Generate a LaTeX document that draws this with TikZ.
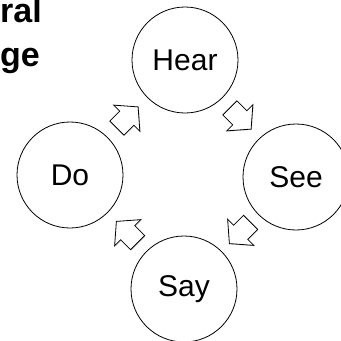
\documentclass[tikz,border=0pt]{standalone}
\usepackage{fontspec}
\setmainfont{Liberation Sans}
\usetikzlibrary{shadows,calc}
\begin{document}
\begin{tikzpicture}[x=1pt,y=-1pt,
    stage/.style={circle,draw,line width=0.8pt,fill=white,minimum size=106pt,inner sep=0pt,font=\fontsize{30}{36}\selectfont},
    turn/.pic={\draw[line width=0.8pt,fill=white,line join=miter,drop shadow={shadow xshift=0.8pt,shadow yshift=-0.8pt,opacity=0.35}]
      (-15,-10) -- (-1,-10) -- (-1,-18.5) -- (15,0) -- (-1,18.5) -- (-1,10) -- (-15,10) -- cycle;},
    title/.style={anchor=base east,inner sep=0pt,font=\fontsize{34}{40}\selectfont\bfseries}]
  \useasboundingbox (0,0) rectangle (341,341);
  % the four stages
  \node[stage] (hear) at (185,60) {Hear};
  \node[stage] (see) at (296,177) {See};
  \node[stage] (say) at (184,289) {Say};
  \node[stage] (do) at (70,175) {Do};
  % block arrows between them, clockwise
  \pic[rotate=-45] (hearsee) at ($(hear)!0.5!(see)$) {turn};
  \pic[rotate=-135] (seesay) at ($(see)!0.5!(say)$) {turn};
  \pic[rotate=135] (saydo) at ($(say)!0.5!(do)$) {turn};
  \pic[rotate=45] (dohear) at ($(do)!0.5!(hear)$) {turn};
  % cut-off title
  \node[title] (tline1) at (42,22) {ral};
  \node[title] (tline2) at (40,66) {ge};
\end{tikzpicture}
\end{document}
